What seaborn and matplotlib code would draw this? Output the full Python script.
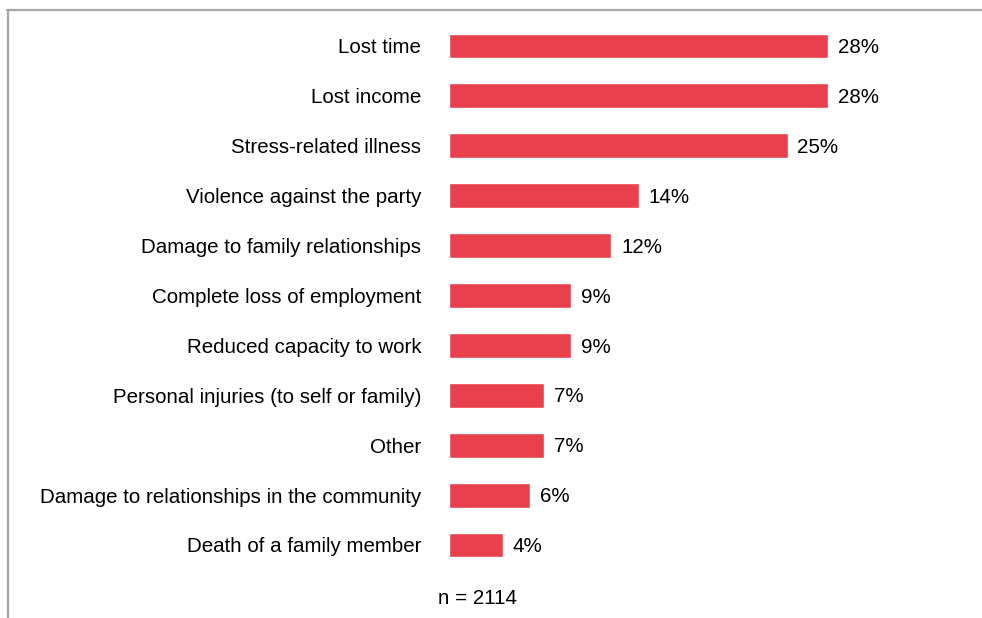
import matplotlib
matplotlib.use("Agg")
import matplotlib.pyplot as plt
from matplotlib import font_manager
from matplotlib.lines import Line2D
import seaborn as sns
import pandas as pd

# Reported impacts and share of respondents (%)
categories = [
    "Lost time",
    "Lost income",
    "Stress-related illness",
    "Violence against the party",
    "Damage to family relationships",
    "Complete loss of employment",
    "Reduced capacity to work",
    "Personal injuries (to self or family)",
    "Other",
    "Damage to relationships in the community",
    "Death of a family member",
]
percentages = [28, 28, 25, 14, 12, 9, 9, 7, 7, 6, 4]
sample_note = "n = 2114"

df = pd.DataFrame({"impact": categories, "pct": percentages})

sns.set_theme(style="white")

# Prefer a narrow sans face; fall back to regular width at a smaller size
try:
    font_manager.findfont("Liberation Sans Narrow", fallback_to_default=False)
    family, fsize = ["Liberation Sans Narrow", "DejaVu Sans"], 18
except Exception:
    family, fsize = ["Liberation Sans", "DejaVu Sans"], 14.8
plt.rcParams["font.family"] = family

W, H = 982, 618
fig = plt.figure(figsize=(W / 100, H / 100), dpi=100)
fig.patch.set_facecolor("white")

bar_left = 449
ax = fig.add_axes([bar_left / W, 0, 1 - bar_left / W, (H - 10) / H])

sns.barplot(data=df, x="pct", y="impact", orient="h", color="#E8404D",
            saturation=1, width=0.5, ax=ax)

ax.set_xlim(0, (W - bar_left) / 13.54)
ax.set_ylim(11.463, -0.721)
for s in ax.spines.values():
    s.set_visible(False)
ax.set_xticks([])
ax.set_xlabel("")
ax.set_ylabel("")
ax.tick_params(axis="y", length=0, pad=20, labelsize=fsize, labelcolor="black")

value_labels = ax.bar_label(ax.containers[0],
                            labels=[f"{v}%" for v in percentages],
                            padding=7, fontsize=fsize, color="black")
for t in value_labels:
    t.xyann = (t.xyann[0], -1.2)

fig.text(477 / W, 1 - 598 / H, sample_note, ha="center", va="center",
         fontsize=fsize, color="black")

# Frame lines along the top and left
border = "#A6A6A6"
fig.add_artist(Line2D([7 / W, 1], [1 - 10 / H, 1 - 10 / H], color=border,
                      lw=1.6, transform=fig.transFigure))
fig.add_artist(Line2D([8 / W, 8 / W], [0, 1 - 10 / H], color=border,
                      lw=1.6, transform=fig.transFigure))

fig.savefig("out.png", dpi=100, facecolor="white")
